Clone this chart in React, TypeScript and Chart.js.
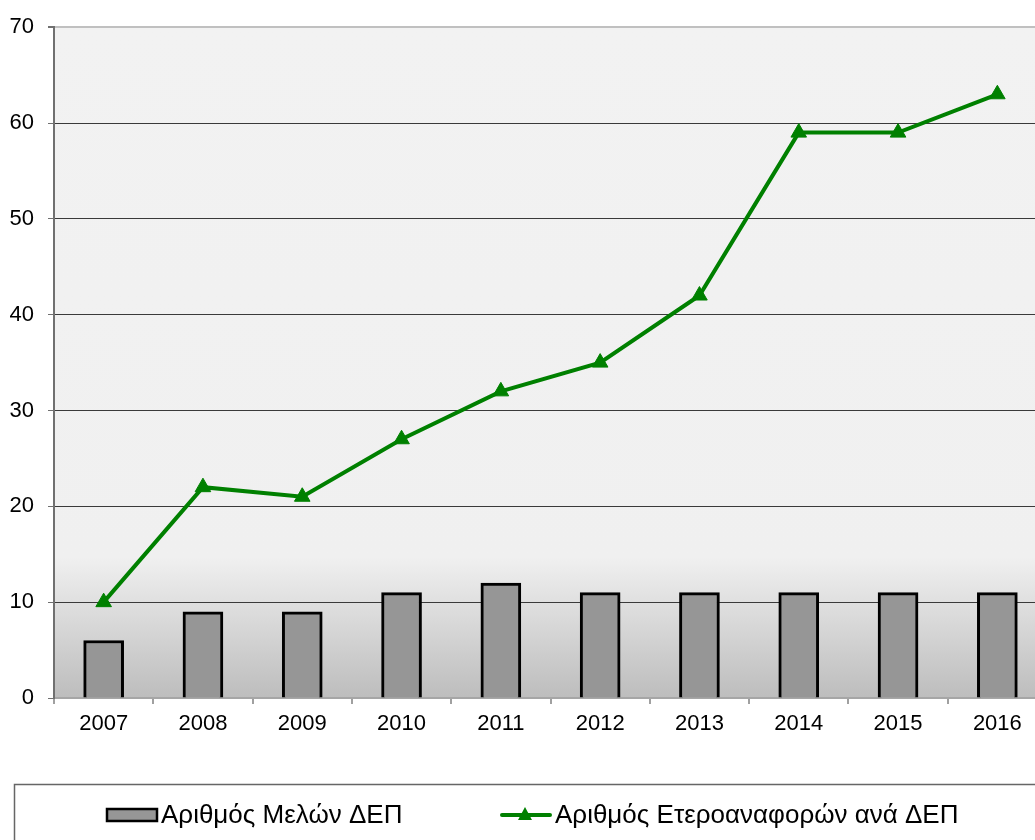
import React, { useEffect, useRef } from "react";
import { Chart, registerables } from "chart.js";

Chart.register(...registerables);

const years = ["2007", "2008", "2009", "2010", "2011", "2012", "2013", "2014", "2015", "2016"];
const members = [6, 9, 9, 11, 12, 11, 11, 11, 11, 11];
const crossRefs = [10, 22, 21, 27, 32, 35, 42, 59, 59, 63];
const barLabel = "Αριθμός Μελών ΔΕΠ";
const lineLabel = "Αριθμός Ετεροαναφορών ανά ΔΕΠ";

const FONT = "'Liberation Sans', Arial, sans-serif";
const GREEN = "#008000";

const bgPlugin = {
  id: "bgGradient",
  beforeDraw(chart: any) {
    const { ctx, chartArea } = chart;
    const { left, top, right, bottom } = chartArea;
    const g = ctx.createLinearGradient(0, top, 0, bottom);
    g.addColorStop(0, "#f2f2f2");
    g.addColorStop(0.79, "#f0f0f0");
    g.addColorStop(1, "#bdbdbd");
    ctx.save();
    ctx.fillStyle = g;
    ctx.fillRect(left, top, right - left, bottom - top);
    ctx.restore();
  },
};

const legendPlugin = {
  id: "customLegend",
  afterDraw(chart: any) {
    const ctx = chart.ctx;
    ctx.save();
    ctx.strokeStyle = "#666666";
    ctx.lineWidth = 1.5;
    ctx.strokeRect(14.5, 784.5, 1100, 200);
    const cy = 815;
    // bar swatch
    ctx.fillStyle = "#969696";
    ctx.fillRect(107, cy - 6, 50, 12);
    ctx.strokeStyle = "#000";
    ctx.lineWidth = 2.5;
    ctx.strokeRect(107, cy - 6, 50, 12);
    ctx.font = `26px ${FONT}`;
    ctx.fillStyle = "#000";
    ctx.textBaseline = "middle";
    ctx.textAlign = "left";
    ctx.fillText(barLabel, 161, cy + 1);
    // line swatch
    ctx.strokeStyle = GREEN;
    ctx.lineWidth = 4;
    ctx.lineCap = "round";
    ctx.beginPath();
    ctx.moveTo(502, cy);
    ctx.lineTo(550, cy);
    ctx.stroke();
    ctx.fillStyle = GREEN;
    ctx.beginPath();
    ctx.moveTo(525, cy - 8);
    ctx.lineTo(532, cy + 5);
    ctx.lineTo(518, cy + 5);
    ctx.closePath();
    ctx.fill();
    ctx.fillStyle = "#000";
    ctx.fillText(lineLabel, 555, cy + 1);
    ctx.restore();
  },
};

export default function App() {
  const ref = useRef<HTMLCanvasElement>(null);
  useEffect(() => {
    document.body.style.overflow = "hidden";
    const chart = new Chart(ref.current as HTMLCanvasElement, {
      type: "bar",
      data: {
        labels: years,
        datasets: [
          {
            type: "line",
            label: lineLabel,
            data: crossRefs,
            borderColor: GREEN,
            backgroundColor: GREEN,
            borderWidth: 4,
            pointStyle: "triangle",
            pointRadius: 9,
            pointBorderWidth: 1,
            pointBackgroundColor: GREEN,
            pointBorderColor: GREEN,
            tension: 0,
            order: 0,
          } as any,
          {
            type: "bar",
            label: barLabel,
            data: members,
            backgroundColor: "#969696",
            borderColor: "#000000",
            borderWidth: 3,
            barThickness: 40,
            order: 1,
          },
        ],
      },
      options: {
        responsive: false,
        animation: false,
        devicePixelRatio: 1,
        layout: { padding: { left: 0, top: 25, right: 13, bottom: 122 } },
        plugins: {
          legend: { display: false },
          tooltip: { enabled: false },
        },
        scales: {
          x: {
            offset: true,
            grid: {
              offset: true,
              drawOnChartArea: false,
              drawTicks: true,
              tickLength: 6,
              color: "#a0a0a0",
              lineWidth: 2,
            },
            border: { display: true, color: "#a6a6a6", width: 2 },
            ticks: { color: "#000", font: { family: FONT, size: 22 }, padding: 7 },
            afterFit(scale: any) {
              scale.height = 40;
            },
          },
          y: {
            min: 0,
            max: 70,
            ticks: { stepSize: 10, color: "#000", font: { family: FONT, size: 22 }, padding: 14 },
            grid: {
              drawTicks: true,
              tickLength: 6,
              tickColor: "#707070",
              color: (c: any) =>
                c.tick && c.tick.value === 70 ? "#c0c0c0" : c.tick && c.tick.value === 0 ? "rgba(0,0,0,0)" : "#3a3a3a",
              lineWidth: (c: any) => (c.tick && c.tick.value === 70 ? 2 : 1),
            },
            border: { display: true, color: "#707070", width: 2 },
            afterFit(scale: any) {
              scale.width = 54;
            },
          },
        },
      },
      plugins: [bgPlugin, legendPlugin],
    });
    return () => chart.destroy();
  }, []);
  return (
    <div style={{ position: "fixed", left: 0, top: 0, width: 1060, height: 860 }}>
      <canvas ref={ref} width={1060} height={860} style={{ width: 1060, height: 860 }} />
    </div>
  );
}
